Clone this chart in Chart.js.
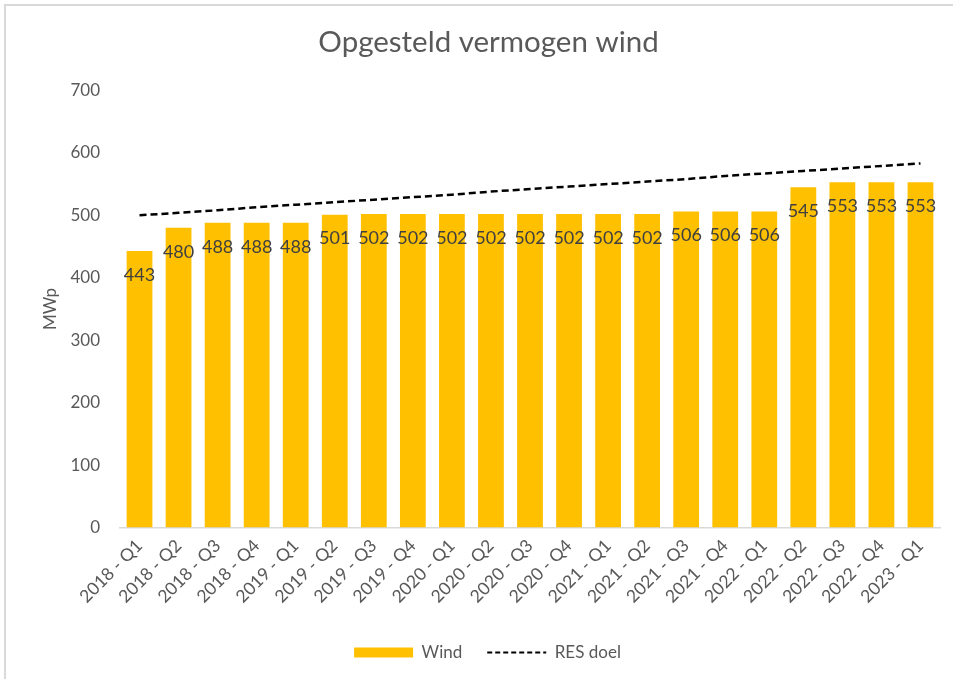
<!DOCTYPE html>
<html>
<head>
<meta charset="utf-8">
<script src="https://cdn.jsdelivr.net/npm/chart.js@4"></script>
<style>
  body { margin: 0; background: #fff; }
  #frame { position: absolute; left: 4px; top: 4px; width: 960px; height: 690px;
           border-left: 2px solid #d9d9d9; border-top: 2px solid #d9d9d9; }
  #wrap { position: absolute; left: 0; top: 0; width: 953px; height: 679px; }
</style>
</head>
<body>
<div id="frame"></div>
<div id="wrap"><canvas id="chart-wind" width="953" height="679"></canvas></div>
<script>
// data
var quarters = [
  "2018 - Q1", "2018 - Q2", "2018 - Q3", "2018 - Q4",
  "2019 - Q1", "2019 - Q2", "2019 - Q3", "2019 - Q4",
  "2020 - Q1", "2020 - Q2", "2020 - Q3", "2020 - Q4",
  "2021 - Q1", "2021 - Q2", "2021 - Q3", "2021 - Q4",
  "2022 - Q1", "2022 - Q2", "2022 - Q3", "2022 - Q4",
  "2023 - Q1"
];
var windValues = [443, 480, 488, 488, 488, 501, 502, 502, 502, 502, 502, 502, 502, 502, 506, 506, 506, 545, 553, 553, 553];
var resDoel = [500, 504, 508, 513, 517, 521, 525, 529, 533, 538, 542, 546, 550, 554, 558, 563, 567, 571, 575, 579, 583];
var yTicks = [0, 100, 200, 300, 400, 500, 600, 700];

var fontFam = "Lato";
var ctx = document.getElementById("chart-wind").getContext("2d");

// value labels just inside the top of each bar
var barLabels = {
  id: "barLabels",
  afterDatasetsDraw: function (chart) {
    var c = chart.ctx;
    var meta = chart.getDatasetMeta(0);
    c.save();
    c.font = "18px " + fontFam;
    c.fillStyle = "#404040";
    c.textAlign = "center";
    c.textBaseline = "middle";
    meta.data.forEach(function (bar, i) {
      c.fillText(String(windValues[i]), bar.x, bar.y + 24);
    });
    c.restore();
  }
};

// title and legend sit a bit right of the canvas centre in the original
var nudge = {
  id: "nudge",
  afterLayout: function (chart) {
    chart.titleBlock.left += 16;
    chart.titleBlock.right += 16;
    chart.legend.left += 15;
    chart.legend.right += 15;
  }
};

new Chart(ctx, {
  type: "bar",
  data: {
    labels: quarters,
    datasets: [
      {
        label: "Wind",
        data: windValues,
        backgroundColor: "#FFC000",
        borderWidth: 0,
        categoryPercentage: 1,
        barPercentage: 0.66,
        order: 2,
      },
      {
        type: "line",
        label: "RES doel",
        data: resDoel,
        borderColor: "#000",
        borderWidth: 2.5,
        borderDash: [7, 4],
        pointRadius: 0,
        fill: false,
        tension: 0,
        order: 1,
      },
    ],
  },
  options: {
    responsive: false,
    animation: false,
    layout: { padding: { left: 5, right: 13, top: 0, bottom: 8 } },
    plugins: {
      title: {
        display: true,
        text: "Opgesteld vermogen wind",
        color: "#595959",
        font: { family: fontFam, size: 29.5, weight: "normal" },
        padding: { top: 25, bottom: 30 },
      },
      legend: {
        position: "bottom",
        labels: {
          usePointStyle: true,
          pointStyleWidth: 59,
          boxHeight: 10,
          padding: 25,
          color: "#595959",
          font: { family: fontFam, size: 17 },
          sort: function (a, b) { return a.datasetIndex - b.datasetIndex; },
          generateLabels: function (chart) {
            var items = Chart.defaults.plugins.legend.labels.generateLabels(chart);
            items.forEach(function (it) {
              if (it.datasetIndex === 0) {
                it.pointStyle = "rect";
                it.lineWidth = 0;
                it.strokeStyle = "#FFC000";
              } else {
                it.pointStyle = "line";
                it.lineWidth = 2;
                it.lineDash = [5, 3];
                it.strokeStyle = "#000";
              }
            });
            return items;
          },
        },
      },
      tooltip: { enabled: false },
    },
    scales: {
      x: {
        grid: { display: false, drawTicks: false },
        border: { display: true, color: "#d9d9d9", width: 1.5 },
        afterFit: function (scale) { scale.height = 91.5; },
        ticks: {
          minRotation: 45,
          maxRotation: 45,
          padding: 8,
          color: "#595959",
          font: { family: fontFam, size: 17.5 },
        },
      },
      y: {
        min: 0,
        max: 700,
        afterBuildTicks: function (scale) {
          scale.ticks = yTicks.map(function (v) { return { value: v }; });
        },
        afterFit: function (scale) { scale.width = 115; },
        grid: { display: false, drawTicks: false },
        border: { display: false },
        ticks: {
          padding: 20,
          color: "#595959",
          font: { family: fontFam, size: 17 },
        },
        title: {
          display: true,
          text: "MWp",
          color: "#595959",
          font: { family: fontFam, size: 17 },
          padding: { top: 35, bottom: 0 },
        },
      },
    },
  },
  plugins: [barLabels, nudge],
});
</script>
</body>
</html>
